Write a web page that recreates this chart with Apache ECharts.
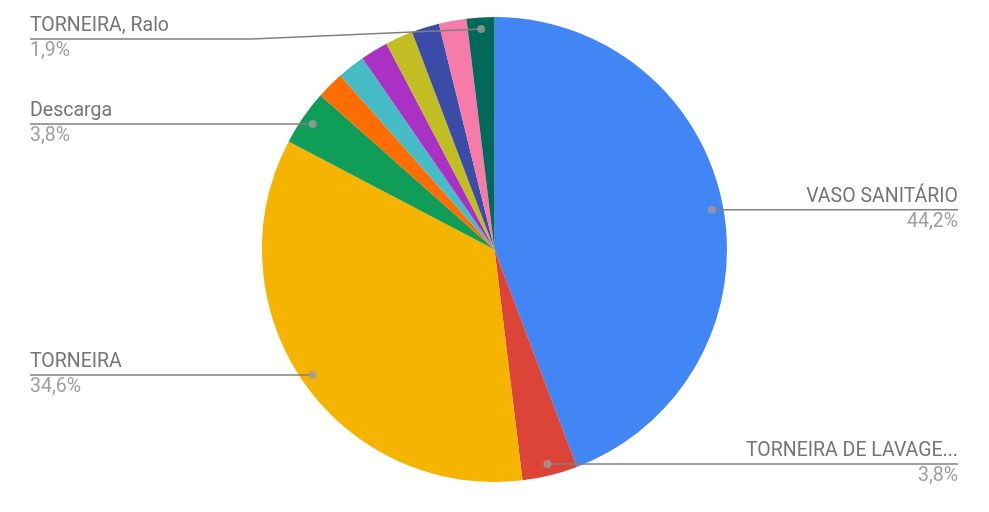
<!DOCTYPE html>
<html><head><meta charset="utf-8">
<script src="https://cdn.jsdelivr.net/npm/echarts@6/dist/echarts.min.js"></script>
<style>html,body{margin:0;padding:0;background:#fff}#c{width:989px;height:512px}</style>
</head><body><div id="c"></div>
<script>
const categories = ['VASO SANITÁRIO','TORNEIRA DE LAVAGE...','TORNEIRA','Descarga','Outro 1','Outro 2','Outro 3','Outro 4','Outro 5','Outro 6','TORNEIRA, Ralo'];
const values = [23,2,18,2,1,1,1,1,1,1,1];
const labeled = [true,true,true,true,false,false,false,false,false,false,true];
const colors = ['#4285F4','#DB4437','#F4B400','#0F9D58','#FF6D00','#46BDC6','#AB30C4','#C2BD23','#3B4BA8','#F77BA9','#00695C'];

const CX = 494.5, CY = 249.5, R = 232.5, DOT = 0.95;
const total = values.reduce((a, b) => a + b, 0);
const mids = []; let acc = 0;
values.forEach(v => { mids.push(acc + v / 2); acc += v; });

function geom(i) {
  const a = mids[i] / total * 2 * Math.PI;
  const dx = Math.sin(a), dy = -Math.cos(a);
  return { x: CX + DOT * R * dx, y: CY + DOT * R * dy, right: dx > 0 };
}

const chart = echarts.init(document.getElementById('c'));
chart.setOption({
  animation: false,
  polar: { center: [CX, CY], radius: R },
  angleAxis: { type: 'value', min: 0, max: total, startAngle: 90, clockwise: true, show: false },
  radiusAxis: { type: 'value', min: 0, max: 1, show: false },
  series: [
    {
      type: 'pie', center: [CX, CY], radius: R, startAngle: 90, clockwise: true, z: 1,
      silent: true, emphasis: { disabled: true },
      itemStyle: { borderWidth: 0 },
      label: { show: false }, labelLine: { show: false },
      data: categories.map((n, i) => ({ name: n, value: values[i], itemStyle: { color: colors[i] } }))
    },
    {
      type: 'pie', center: [CX, CY], radius: R, startAngle: 90, clockwise: true, z: 3,
      silent: true, avoidLabelOverlap: false,
      emphasis: { disabled: true },
      itemStyle: { color: 'rgba(0,0,0,0)', borderWidth: 0 },
      data: categories.map((n, i) => ({ name: n, value: values[i], label: { show: labeled[i] }, labelLine: { show: labeled[i] } })),
      label: {
        position: 'outside',
        formatter: p => '{n|' + p.name + '}\n{p|' + (values[p.dataIndex] / total * 100).toFixed(1).replace('.', ',') + '%}',
        rich: {
          n: { fontFamily: 'Roboto', fontSize: 19.5, color: '#757575', lineHeight: 25 },
          p: { fontFamily: 'Roboto', fontSize: 19.5, color: '#9e9e9e', lineHeight: 25 }
        }
      },
      labelLine: { show: true, lineStyle: { color: '#808080', width: 1.5 } },
      labelLayout: function (params) {
        const i = params.dataIndex;
        const g = geom(i);
        const W = chart.getWidth(), H = chart.getHeight();
        const ly = Math.max(39, Math.min(g.y, H - 40));
        const right = g.right;
        const endX = right ? W - 31 : 30;
        const bendX = right ? CX + R + 10 : CX - R - 10;
        return {
          x: endX, y: ly, align: right ? 'right' : 'left', verticalAlign: 'middle',
          labelLinePoints: [[g.x, g.y], [bendX, ly], [endX, ly]]
        };
      }
    },
    {
      type: 'scatter', coordinateSystem: 'polar', symbolSize: 8, silent: true, z: 5,
      itemStyle: { color: '#9e9e9e' },
      data: mids.map((m, i) => labeled[i] ? [DOT, m] : null).filter(d => d)
    }
  ]
});
</script>
</body></html>
